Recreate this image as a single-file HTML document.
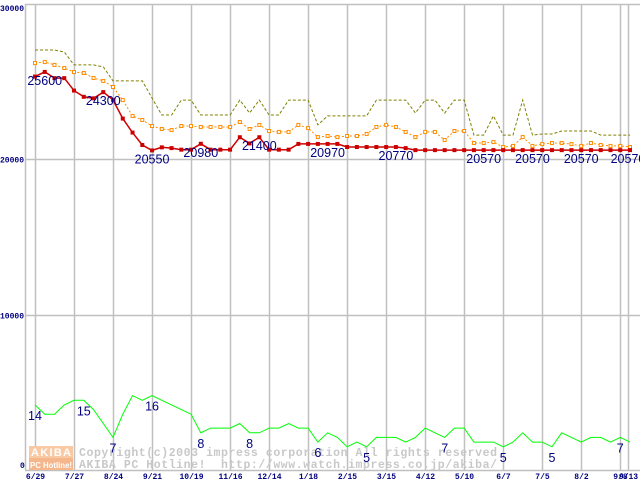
<!DOCTYPE html>
<html><head><meta charset="utf-8"><style>
html,body{margin:0;padding:0;background:#fff;}
svg{display:block;}
text{font-family:"Liberation Sans","DejaVu Sans",sans-serif;}
.ax{font-family:"Liberation Mono","DejaVu Sans Mono",monospace;font-size:8px;fill:#000080;font-weight:bold;}
.lbl{font-size:12.5px;fill:#000080;}
.wm{font-family:"Liberation Mono","DejaVu Sans Mono",monospace;font-size:11.5px;font-weight:bold;fill:#c8c8c8;}
</style></head><body>
<svg id="chart" width="640" height="480" viewBox="0 0 640 480" xmlns="http://www.w3.org/2000/svg">
<g id="grid"></g>
<g id="wm">
<rect x="29" y="446" width="44" height="12" fill="#f9c9a3"/>
<rect x="29" y="458" width="44" height="12" fill="#f6b68c"/>
<text x="31" y="456" textLength="40" lengthAdjust="spacing" style="font-size:11px;font-weight:bold;fill:#fff;font-family:'Liberation Sans',sans-serif">AKIBA</text>
<text x="30" y="468" textLength="42" lengthAdjust="spacingAndGlyphs" style="font-size:8px;font-weight:bold;fill:#fff;font-family:'Liberation Sans',sans-serif">PC Hotline!</text>
<text class="wm" x="79" y="456" textLength="418" lengthAdjust="spacing">Copyright(c)2003 impress corporation All rights reserved</text>
<text class="wm" x="79" y="468" textLength="418" lengthAdjust="spacing" xml:space="preserve">AKIBA PC Hotline!  http://www.watch.impress.co.jp/akiba/</text>
</g>
<g id="series"></g>
<g id="labels"></g>
</svg>
<script>
const xLabels = ["6/29","7/27","8/24","9/21","10/19","11/16","12/14","1/18","2/15","3/15","4/12","5/10","6/7","7/5","8/2","9/8","9/13"];
const xLabelWeeks = [0,4,8,12,16,20,24,28,32,36,40,44,48,52,56,60,60.8];
const yTicks = [0,10000,20000,30000];
const minPrice = [25300,25600,25200,25200,24400,24000,23900,24300,23800,22600,21700,20900,20550,20750,20700,20600,20600,20980,20600,20600,20600,21400,21000,21400,20600,20600,20600,20970,20970,20970,20970,20970,20770,20770,20770,20770,20770,20770,20700,20570,20570,20570,20570,20570,20570,20570,20570,20570,20570,20570,20570,20570,20570,20570,20570,20570,20570,20570,20570,20570,20570,20570];
const avgPrice = [26170,26240,26050,25850,25590,25530,25210,25020,24630,23790,22770,22510,22120,21930,21860,22120,22120,22060,22060,22060,22060,22380,21930,22190,21800,21740,21740,22190,21990,21410,21480,21410,21480,21480,21610,22060,22190,22060,21740,21410,21740,21740,21220,21800,21800,21030,21030,21090,20770,20840,21410,20840,20960,21030,21030,20960,20840,21030,20900,20840,20840,20770];
const maxPrice = [27010,27010,27010,26880,26050,26050,26050,25920,25020,25020,25020,25020,23920,22830,22830,23790,23790,22830,22830,22830,22830,23790,22960,23790,22830,22830,23790,23790,23790,22190,22770,22770,22770,22770,22770,23790,23790,23790,23790,22960,23790,23790,22960,23790,23790,21540,21540,22770,21540,21540,23790,21540,21610,21610,21800,21800,21800,21800,21540,21540,21540,21540];
const shopCount = [14,12,12,14,15,15,13,10,7,12,16,15,16,15,14,13,12,8,9,9,9,10,8,8,9,9,10,9,9,6,8,7,5,6,5,7,7,7,6,7,9,8,7,9,9,6,6,6,5,6,8,6,6,5,8,7,6,7,7,6,7,6];
const priceLabelIdx = [1,7,12,17,23,30,37,46,51,56,61];
const countLabelIdx = [0,5,8,12,17,22,29,34,42,48,53,60];

const NS="http://www.w3.org/2000/svg";
const X0=35, DX=595/61, Y0=470, PY=0.01555, CY=4.65;
const xs=i=>X0+i*DX;
const yp=v=>Y0-v*PY;
const yc=c=>Y0-c*CY;
function mk(tag,parent,attrs){const e=document.createElementNS(NS,tag);for(const k in attrs)e.setAttribute(k,attrs[k]);parent.appendChild(e);return e;}
const grid=document.getElementById('grid'), ser=document.getElementById('series'), lab=document.getElementById('labels');

yTicks.forEach((t,k)=>{
  const y=Math.round(yp(t))+0.5;
  const l=mk('line',grid,{x1:25,x2:640,y1:y,y2:y,stroke:'#c0c0c0','stroke-width':1.5});
  
  
  const tx=mk('text',grid,{x:t===0?20:0,y:t===30000?11:(t===0?468:y+3),class:'ax'});
  tx.textContent=String(t);
  
  
});
const ax=mk('line',grid,{x1:25.5,x2:25.5,y1:4,y2:470,stroke:'#c0c0c0','stroke-width':1.5});


xLabels.forEach((s,k)=>{
  const x=Math.round(xs(xLabelWeeks[k]))+0.5;
  const l=mk('line',grid,{x1:x,x2:x,y1:4,y2:470,stroke:'#c0c0c0','stroke-width':1.5});
  
  
  const tx=mk('text',grid,{x:x,y:479,class:'ax','text-anchor':'middle'});
  tx.textContent=s;
  
  
});

function pts(arr,f){return arr.map((v,i)=>xs(i).toFixed(1)+','+f(v).toFixed(1)).join(' ');}
const pmax=mk('polyline',ser,{points:pts(maxPrice,yp),fill:'none',stroke:'#808000','stroke-width':1,'stroke-dasharray':'3,2'});


const pavg=mk('polyline',ser,{points:pts(avgPrice,yp),fill:'none',stroke:'#ff8c00','stroke-width':1,'stroke-dasharray':'2,2'});


avgPrice.forEach((v,i)=>{
  const r=mk('rect',ser,{x:xs(i)-1.5,y:yp(v)-1.5,width:3,height:3,fill:'#fff',stroke:'#ff8c00','stroke-width':1});
  
  
});
const pmin=mk('polyline',ser,{points:pts(minPrice,yp),fill:'none',stroke:'#cc0000','stroke-width':1.5});


minPrice.forEach((v,i)=>{
  const r=mk('rect',ser,{x:xs(i)-2,y:yp(v)-2,width:4,height:4,fill:'#cc0000'});
  
  
});
const pc=mk('polyline',ser,{points:pts(shopCount,yc),fill:'none',stroke:'#00ff00','stroke-width':1});



priceLabelIdx.forEach(i=>{
  const t=mk('text',lab,{x:xs(i)+(i===61?-2:0),y:yp(minPrice[i])+13,class:'lbl','text-anchor':'middle'});
  t.textContent=String(minPrice[i]);
  
  
});
countLabelIdx.forEach(i=>{
  const t=mk('text',lab,{x:xs(i),y:yc(shopCount[i])+15,class:'lbl','text-anchor':'middle'});
  t.textContent=String(shopCount[i]);
  
  
});
</script>
</body></html>
